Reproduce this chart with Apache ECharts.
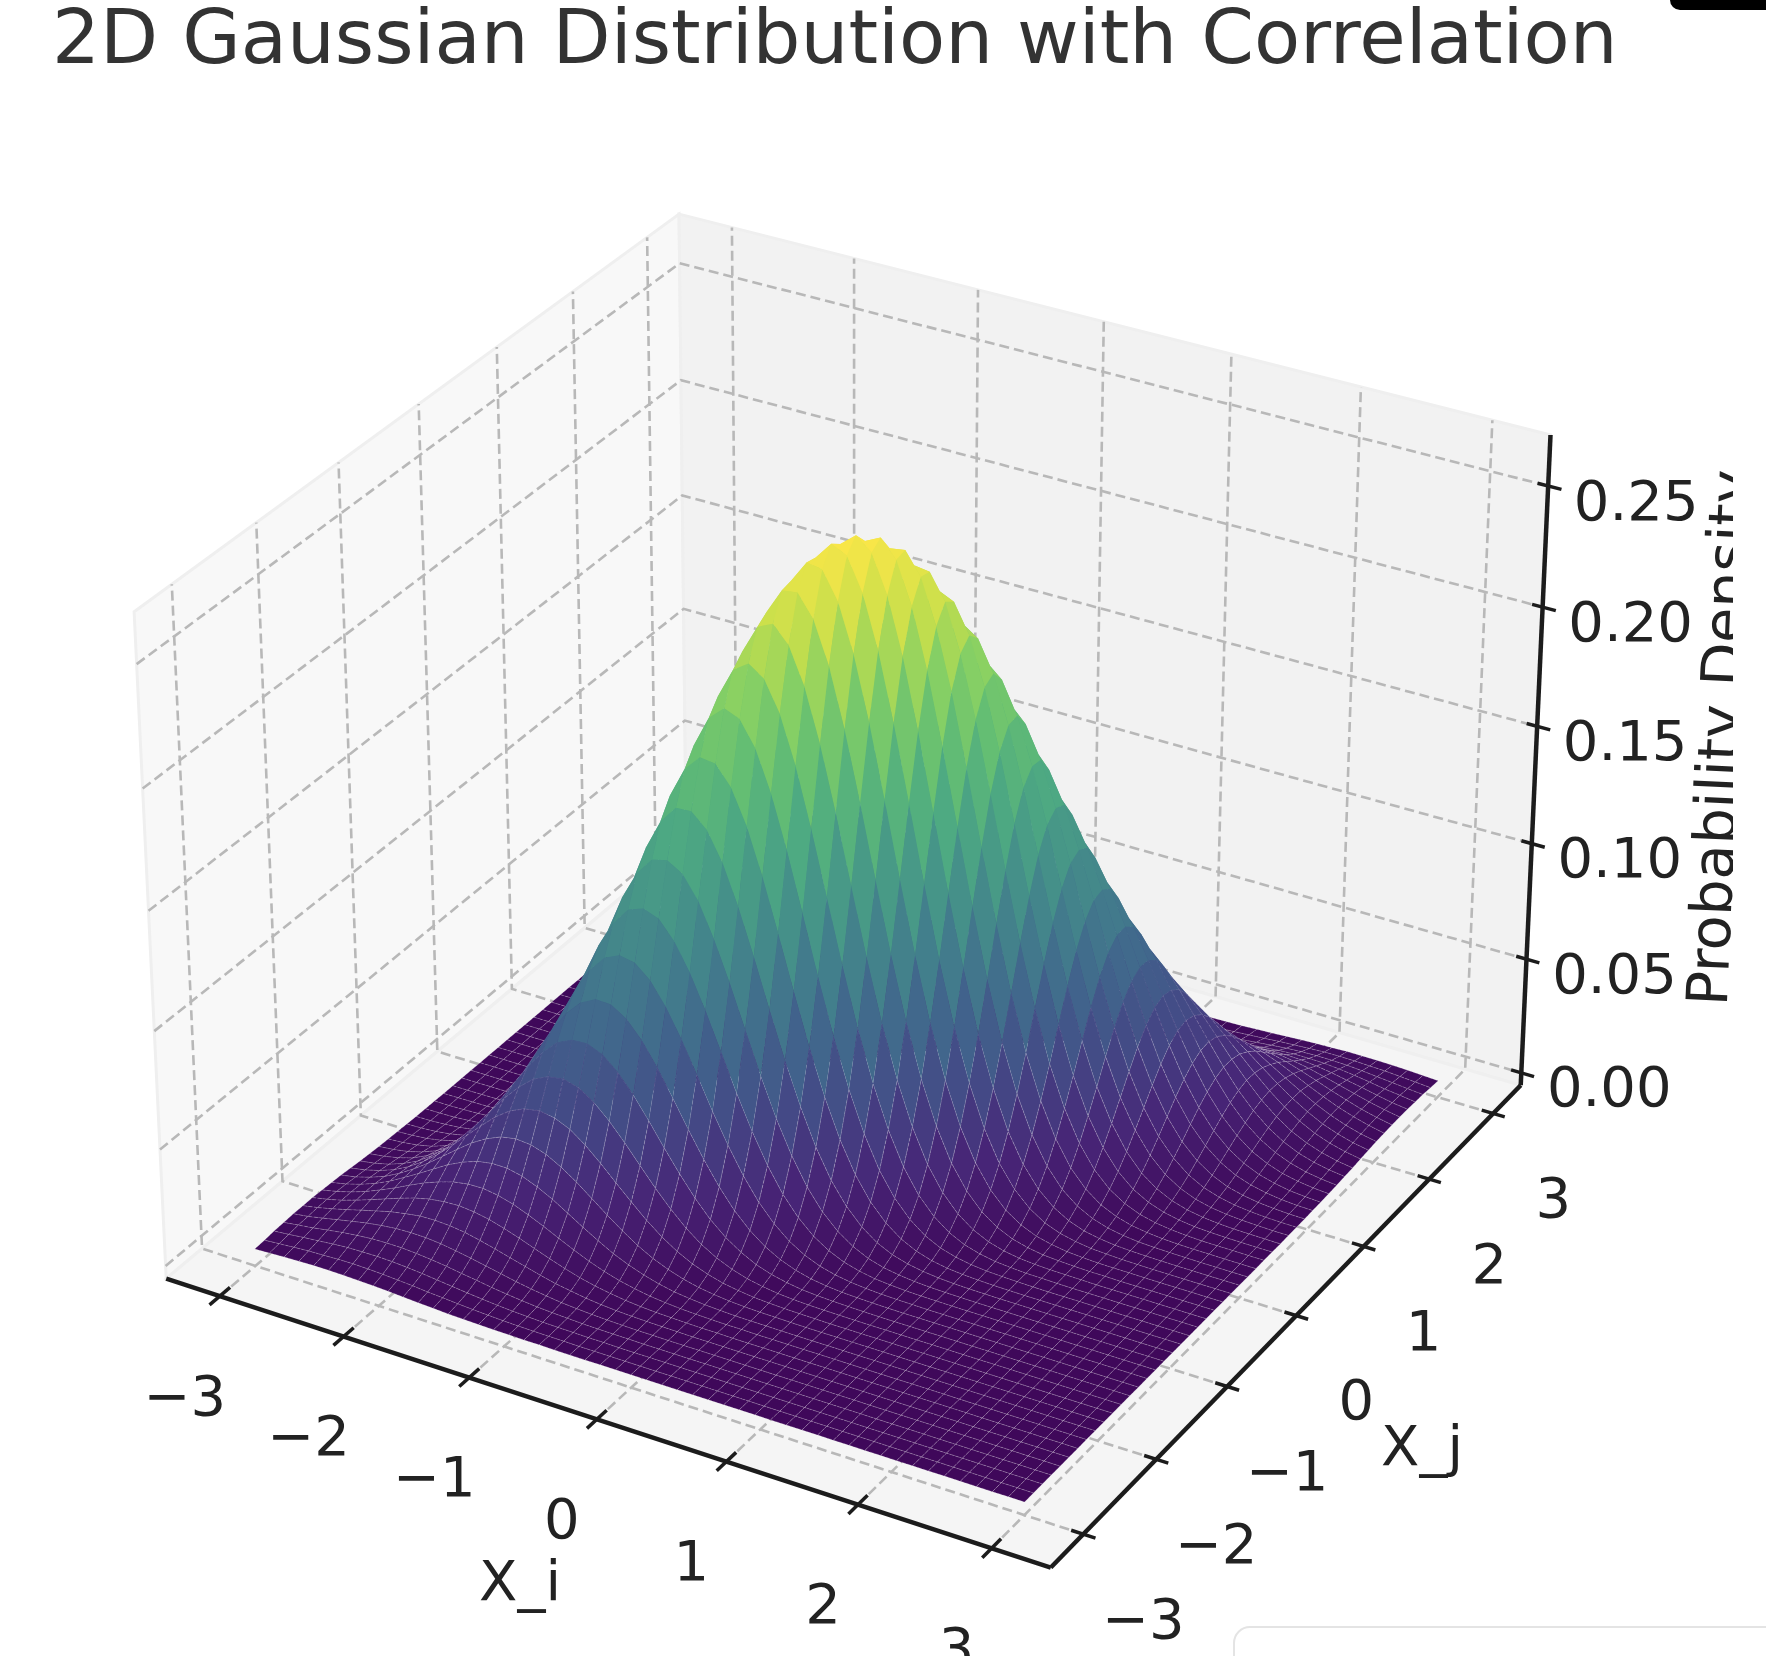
<!DOCTYPE html>
<html>
<head>
<meta charset="utf-8">
<title>2D Gaussian Distribution with Correlation</title>
<style>html,body{margin:0;padding:0;background:#fff}#chart{width:1766px;height:1656px}</style>
<script src="https://cdn.jsdelivr.net/npm/echarts@6/dist/echarts.min.js"></script>
</head>
<body>
<div id="chart"></div>
<script>
// Sample positions along both horizontal axes.
const gridPositions = [-3,-2.88,-2.76,-2.64,-2.52,-2.4,-2.28,-2.16,-2.04,-1.92,-1.8,-1.68,-1.56,-1.44,-1.32,-1.2,-1.08,-0.96,-0.84,-0.72,-0.6,-0.48,-0.36,-0.24,-0.12,0,0.12,0.24,0.36,0.48,0.6,0.72,0.84,0.96,1.08,1.2,1.32,1.44,1.56,1.68,1.8,1.92,2.04,2.16,2.28,2.4,2.52,2.64,2.76,2.88,3];

// Probability density on that grid, in units of 0.0001. Rows follow X_i, columns X_j.
const densityRows = [
[18,21,25,27,29,29,29,27,25,22,18,14,11,8,6,4,3,2,1,1,0,0,0,0,0,0,0,0,0,0,0,0,0,0,0,0,0,0,0,0,0,0,0,0,0,0,0,0,0,0,0],
[21,26,31,36,38,41,42,41,38,34,30,24,20,15,11,8,5,3,2,1,1,0,0,0,0,0,0,0,0,0,0,0,0,0,0,0,0,0,0,0,0,0,0,0,0,0,0,0,0,0,0],
[25,31,38,44,51,56,58,59,57,53,47,40,33,26,20,14,10,7,4,3,2,1,1,0,0,0,0,0,0,0,0,0,0,0,0,0,0,0,0,0,0,0,0,0,0,0,0,0,0,0,0],
[27,36,44,55,65,73,79,81,81,77,71,63,53,44,34,26,19,13,9,6,3,2,1,1,0,0,0,0,0,0,0,0,0,0,0,0,0,0,0,0,0,0,0,0,0,0,0,0,0,0,0],
[29,38,51,65,78,91,101,108,111,110,104,94,83,70,57,44,33,24,16,11,7,4,2,1,1,0,0,0,0,0,0,0,0,0,0,0,0,0,0,0,0,0,0,0,0,0,0,0,0,0,0],
[29,41,56,73,91,108,125,137,147,149,146,138,124,108,90,73,56,41,30,20,13,8,5,3,2,1,0,0,0,0,0,0,0,0,0,0,0,0,0,0,0,0,0,0,0,0,0,0,0,0,0],
[29,42,58,79,101,125,148,169,185,194,197,191,179,160,139,115,92,70,51,36,25,16,10,6,4,2,1,1,0,0,0,0,0,0,0,0,0,0,0,0,0,0,0,0,0,0,0,0,0,0,0],
[27,41,59,81,108,137,169,199,224,244,255,257,247,229,204,175,144,114,86,63,44,30,19,12,7,4,2,1,1,0,0,0,0,0,0,0,0,0,0,0,0,0,0,0,0,0,0,0,0,0,0],
[25,38,57,81,111,147,185,224,263,294,318,329,329,315,289,256,217,177,139,104,76,53,35,22,14,8,5,2,1,1,0,0,0,0,0,0,0,0,0,0,0,0,0,0,0,0,0,0,0,0,0],
[22,34,53,77,110,149,194,244,294,342,380,408,420,415,394,359,315,265,214,167,124,89,62,41,26,16,9,5,3,2,1,0,0,0,0,0,0,0,0,0,0,0,0,0,0,0,0,0,0,0,0],
[18,30,47,71,104,146,197,255,318,380,439,485,514,526,515,486,439,381,318,256,197,146,104,71,47,29,18,10,6,3,2,1,0,0,0,0,0,0,0,0,0,0,0,0,0,0,0,0,0,0,0],
[14,24,40,63,94,138,191,257,329,408,485,553,607,638,647,629,587,527,455,377,300,230,168,119,81,53,33,20,11,6,3,2,1,0,0,0,0,0,0,0,0,0,0,0,0,0,0,0,0,0,0],
[11,20,33,53,83,124,179,247,329,420,514,607,686,748,780,783,756,700,624,534,438,347,263,191,134,91,58,36,22,12,7,4,2,1,0,0,0,0,0,0,0,0,0,0,0,0,0,0,0,0,0],
[8,15,26,44,70,108,160,229,315,415,526,638,748,838,904,937,934,893,822,726,616,502,394,297,214,149,100,64,39,23,13,7,4,2,1,0,0,0,0,0,0,0,0,0,0,0,0,0,0,0,0],
[6,11,20,34,57,90,139,204,289,394,515,647,780,904,1008,1079,1108,1096,1040,949,832,701,566,441,329,236,163,108,69,42,25,14,8,4,2,1,0,0,0,0,0,0,0,0,0,0,0,0,0],
[4,8,14,26,44,73,115,175,256,359,486,629,783,937,1079,1192,1267,1290,1266,1191,1079,938,783,628,485,359,255,175,115,73,44,26,14,8,4,2,1,0,0,0,0,0,0,0,0,0,0,0,0,0,0,0],
[3,5,10,19,33,56,92,144,217,315,439,587,756,934,1108,1267,1388,1462,1478,1439,1345,1206,1041,862,686,525,386,272,185,121,76,45,26,15,8,4,2,1,0,0,0,0,0,0,0,0,0,0,0,0,0],
[2,3,7,13,24,41,70,114,177,265,381,527,700,893,1096,1290,1462,1590,1663,1667,1609,1492,1328,1136,933,737,561,408,285,193,125,77,46,27,15,8,4,2,1,0,0,0,0,0,0,0,0,0,0,0,0],
[1,2,4,9,16,30,51,86,139,214,318,455,624,822,1040,1266,1478,1663,1793,1858,1850,1771,1628,1438,1221,996,780,588,425,295,197,127,78,46,26,14,8,4,2,1,0,0,0,0,0,0,0,0,0,0,0],
[1,1,3,6,11,20,36,63,104,167,256,377,534,726,949,1191,1439,1667,1858,1989,2046,2020,1918,1750,1535,1292,1044,811,607,436,299,199,127,77,45,26,14,7,4,2,1,0,0,0,0,0,0,0,0,0,0],
[0,1,2,3,7,13,25,44,76,124,197,300,438,616,832,1079,1345,1609,1850,2046,2172,2215,2171,2046,1851,1609,1344,1078,831,617,439,299,197,125,76,44,25,13,7,3,2,1,0,0,0,0,0,0,0,0,0],
[0,0,1,2,4,8,16,30,53,89,146,230,347,502,701,938,1206,1492,1771,2020,2215,2334,2364,2295,2145,1926,1662,1377,1096,838,617,436,295,193,121,73,42,23,12,6,3,2,1,0,0,0,0,0,0,0,0],
[0,0,1,1,2,5,10,19,35,62,104,168,263,394,566,783,1041,1328,1628,1918,2171,2364,2469,2478,2389,2215,1973,1689,1388,1096,831,607,425,285,185,115,69,39,22,11,6,3,1,1,0,0,0,0,0,0,0],
[0,0,0,1,1,3,6,12,22,41,71,119,191,297,441,628,862,1136,1438,1750,2046,2295,2478,2569,2559,2447,2251,1989,1689,1377,1078,811,588,408,272,175,108,64,36,20,10,5,2,1,1,0,0,0,0,0,0],
[0,0,0,0,1,2,4,7,14,26,47,81,134,214,329,485,686,933,1221,1535,1851,2145,2389,2559,2632,2601,2467,2251,1973,1662,1344,1044,780,561,386,255,163,100,58,33,18,9,5,2,1,0,0,0,0,0,0],
[0,0,0,0,0,1,2,4,8,16,29,53,91,149,236,359,525,737,996,1292,1609,1926,2215,2447,2601,2653,2601,2447,2215,1926,1609,1292,996,737,525,359,236,149,91,53,29,16,8,4,2,1,0,0,0,0,0],
[0,0,0,0,0,0,1,2,5,9,18,33,58,100,163,255,386,561,780,1044,1344,1662,1973,2251,2467,2601,2632,2559,2389,2145,1851,1535,1221,933,686,485,329,214,134,81,47,26,14,7,4,2,1,0,0,0,0],
[0,0,0,0,0,0,1,1,2,5,10,20,36,64,108,175,272,408,588,811,1078,1377,1689,1989,2251,2447,2559,2569,2478,2295,2046,1750,1438,1136,862,628,441,297,191,119,71,41,22,12,6,3,1,1,0,0,0],
[0,0,0,0,0,0,0,1,1,3,6,11,22,39,69,115,185,285,425,607,831,1096,1388,1689,1973,2215,2389,2478,2469,2364,2171,1918,1628,1328,1041,783,566,394,263,168,104,62,35,19,10,5,2,1,1,0,0],
[0,0,0,0,0,0,0,0,1,2,3,6,12,23,42,73,121,193,295,436,617,838,1096,1377,1662,1926,2145,2295,2364,2334,2215,2020,1771,1492,1206,938,701,502,347,230,146,89,53,30,16,8,4,2,1,0,0],
[0,0,0,0,0,0,0,0,0,1,2,3,7,13,25,44,76,125,197,299,439,617,831,1078,1344,1609,1851,2046,2171,2215,2172,2046,1850,1609,1345,1079,832,616,438,300,197,124,76,44,25,13,7,3,2,1,0],
[0,0,0,0,0,0,0,0,0,0,1,2,4,7,14,26,45,77,127,199,299,436,607,811,1044,1292,1535,1750,1918,2020,2046,1989,1858,1667,1439,1191,949,726,534,377,256,167,104,63,36,20,11,6,3,1,1],
[0,0,0,0,0,0,0,0,0,0,0,1,2,4,8,14,26,46,78,127,197,295,425,588,780,996,1221,1438,1628,1771,1850,1858,1793,1663,1478,1266,1040,822,624,455,318,214,139,86,51,30,16,9,4,2,1],
[0,0,0,0,0,0,0,0,0,0,0,0,1,2,4,8,15,27,46,77,125,193,285,408,561,737,933,1136,1328,1492,1609,1667,1663,1590,1462,1290,1096,893,700,527,381,265,177,114,70,41,24,13,7,3,2],
[0,0,0,0,0,0,0,0,0,0,0,0,0,1,2,4,8,15,26,45,76,121,185,272,386,525,686,862,1041,1206,1345,1439,1478,1462,1388,1267,1108,934,756,587,439,315,217,144,92,56,33,19,10,5,3],
[0,0,0,0,0,0,0,0,0,0,0,0,0,0,1,2,4,8,14,26,44,73,115,175,255,359,485,628,783,938,1079,1191,1266,1290,1267,1192,1079,937,783,629,486,359,256,175,115,73,44,26,14,8,4],
[0,0,0,0,0,0,0,0,0,0,0,0,0,0,0,1,2,4,8,14,25,42,69,108,163,236,329,441,566,701,832,949,1040,1096,1108,1079,1008,904,780,647,515,394,289,204,139,90,57,34,20,11,6],
[0,0,0,0,0,0,0,0,0,0,0,0,0,0,0,0,1,2,4,7,13,23,39,64,100,149,214,297,394,502,616,726,822,893,934,937,904,838,748,638,526,415,315,229,160,108,70,44,26,15,8],
[0,0,0,0,0,0,0,0,0,0,0,0,0,0,0,0,0,1,2,4,7,12,22,36,58,91,134,191,263,347,438,534,624,700,756,783,780,748,686,607,514,420,329,247,179,124,83,53,33,20,11],
[0,0,0,0,0,0,0,0,0,0,0,0,0,0,0,0,0,0,1,2,3,6,11,20,33,53,81,119,168,230,300,377,455,527,587,629,647,638,607,553,485,408,329,257,191,138,94,63,40,24,14],
[0,0,0,0,0,0,0,0,0,0,0,0,0,0,0,0,0,0,0,1,2,3,6,10,18,29,47,71,104,146,197,256,318,381,439,486,515,526,514,485,439,380,318,255,197,146,104,71,47,30,18],
[0,0,0,0,0,0,0,0,0,0,0,0,0,0,0,0,0,0,0,0,1,2,3,5,9,16,26,41,62,89,124,167,214,265,315,359,394,415,420,408,380,342,294,244,194,149,110,77,53,34,22],
[0,0,0,0,0,0,0,0,0,0,0,0,0,0,0,0,0,0,0,0,0,1,1,2,5,8,14,22,35,53,76,104,139,177,217,256,289,315,329,329,318,294,263,224,185,147,111,81,57,38,25],
[0,0,0,0,0,0,0,0,0,0,0,0,0,0,0,0,0,0,0,0,0,0,1,1,2,4,7,12,19,30,44,63,86,114,144,175,204,229,247,257,255,244,224,199,169,137,108,81,59,41,27],
[0,0,0,0,0,0,0,0,0,0,0,0,0,0,0,0,0,0,0,0,0,0,0,1,1,2,4,6,10,16,25,36,51,70,92,115,139,160,179,191,197,194,185,169,148,125,101,79,58,42,29],
[0,0,0,0,0,0,0,0,0,0,0,0,0,0,0,0,0,0,0,0,0,0,0,0,0,1,2,3,5,8,13,20,30,41,56,73,90,108,124,138,146,149,147,137,125,108,91,73,56,41,29],
[0,0,0,0,0,0,0,0,0,0,0,0,0,0,0,0,0,0,0,0,0,0,0,0,0,0,1,1,2,4,7,11,16,24,33,44,57,70,83,94,104,110,111,108,101,91,78,65,51,38,29],
[0,0,0,0,0,0,0,0,0,0,0,0,0,0,0,0,0,0,0,0,0,0,0,0,0,0,0,1,1,2,3,6,9,13,19,26,34,44,53,63,71,77,81,81,79,73,65,55,44,36,27],
[0,0,0,0,0,0,0,0,0,0,0,0,0,0,0,0,0,0,0,0,0,0,0,0,0,0,0,0,1,1,2,3,4,7,10,14,20,26,33,40,47,53,57,59,58,56,51,44,38,31,25],
[0,0,0,0,0,0,0,0,0,0,0,0,0,0,0,0,0,0,0,0,0,0,0,0,0,0,0,0,0,0,1,1,2,3,5,8,11,15,20,24,30,34,38,41,42,41,38,36,31,26,21],
[0,0,0,0,0,0,0,0,0,0,0,0,0,0,0,0,0,0,0,0,0,0,0,0,0,0,0,0,0,0,0,1,1,2,3,4,6,8,11,14,18,22,25,27,29,29,29,27,25,21,18]
];

const xTicks = [-3,-2,-1,0,1,2,3];
const yTicks = [-3,-2,-1,0,1,2,3];
const zTicks = [0,0.05,0.1,0.15,0.2,0.25];
const xLimits = [-3.4375,3.4375];
const yLimits = [-3.4375,3.4375];
const zLimits = [-0.0055,0.2708];
const surfaceStops = ['#3f085a','#472476','#444685','#41648c','#427d8c','#469488','#4eaa82','#64be73','#87d064','#c8df4b','#f8e648'];

// Perspective camera for a 4:4:3 box seen from elevation 30, azimuth -60.
const boxScale = 0.29762;
const boxSize = [4*boxScale,4*boxScale,3*boxScale];
const cameraDistance = 10;
const camU = [0.8660254,0.5,0];
const camV = [-0.25,0.4330127,0.8660254];
const camW = [0.4330127,-0.75,0.5];
function dot(a,b){return a[0]*b[0]+a[1]*b[1]+a[2]*b[2];}
function toBox(x,y,z){
  return [
    ((x-xLimits[0])/(xLimits[1]-xLimits[0])-0.5)*boxSize[0],
    ((y-yLimits[0])/(yLimits[1]-yLimits[0])-0.5)*boxSize[1],
    ((z-zLimits[0])/(zLimits[1]-zLimits[0])-0.5)*boxSize[2]
  ];
}
function project(x,y,z){
  const r = toBox(x,y,z);
  const d = cameraDistance-dot(camW,r);
  return [dot(camU,r)/d,dot(camV,r)/d];
}
function nearness(x,y,z){return dot(camW,toBox(x,y,z));}

function hexRgb(h){return [1,3,5].map(k=>parseInt(h.substr(k,2),16));}
function surfaceColor(t){
  const f = Math.max(0,Math.min(1,t))*(surfaceStops.length-1);
  const k = Math.min(Math.floor(f),surfaceStops.length-2);
  const a = hexRgb(surfaceStops[k]), b = hexRgb(surfaceStops[k+1]);
  const m = f-k;
  return 'rgb('+a.map((v,n)=>Math.round(v+(b[n]-v)*m)).join(',')+')';
}
// Faint mesh lines on the low part of the surface, fading out up the slope.
function meshAlpha(z){
  return 0.2*Math.max(0,Math.min(1,(0.075-z)/0.035));
}

// Surface cells, ordered far to near so nearer cells paint over farther ones.
const cells = [];
for(let i=0;i<gridPositions.length-1;i++){
  for(let j=0;j<gridPositions.length-1;j++){
    const corners = [[i,j],[i+1,j],[i+1,j+1],[i,j+1]].map(c=>[gridPositions[c[0]],gridPositions[c[1]],(densityRows[c[0]][c[1]]||0)/10000]);
    const meanZ = corners.reduce((s,c)=>s+c[2],0)/4;
    const depth = corners.reduce((s,c)=>s+nearness(c[0],c[1],c[2]),0)/4;
    cells.push({corners,meanZ,depth});
  }
}
cells.sort((a,b)=>a.depth-b.depth);
const meanZs = cells.map(c=>c.meanZ);
const colorMin = Math.min.apply(null,meanZs), colorMax = Math.max.apply(null,meanZs);

const [xLo,xHi] = xLimits, [yLo,yHi] = yLimits, [zLo,zHi] = zLimits;
const panes = [
  {fill:'#f8f8f8',corners:[[xLo,yLo,zLo],[xLo,yHi,zLo],[xLo,yHi,zHi],[xLo,yLo,zHi]]},
  {fill:'#f2f2f2',corners:[[xLo,yHi,zLo],[xHi,yHi,zLo],[xHi,yHi,zHi],[xLo,yHi,zHi]]},
  {fill:'#f5f5f5',corners:[[xLo,yLo,zLo],[xHi,yLo,zLo],[xHi,yHi,zLo],[xLo,yHi,zLo]]}
];
const gridPaths = [];
xTicks.forEach(x=>gridPaths.push([[x,yLo,zLo],[x,yHi,zLo],[x,yHi,zHi]]));
yTicks.forEach(y=>gridPaths.push([[xHi,y,zLo],[xLo,y,zLo],[xLo,y,zHi]]));
zTicks.forEach(z=>gridPaths.push([[xLo,yLo,z],[xLo,yHi,z],[xHi,yHi,z]]));
const axisPaths = [
  [[xLo,yLo,zLo],[xHi,yLo,zLo]],
  [[xHi,yLo,zLo],[xHi,yHi,zLo]],
  [[xHi,yHi,zLo],[xHi,yHi,zHi]]
];
const tickPaths = [];
xTicks.forEach(x=>tickPaths.push([[x,yLo-0.125,zLo],[x,yLo+0.125,zLo]]));
yTicks.forEach(y=>tickPaths.push([[xHi-0.09,y,zLo],[xHi+0.09,y,zLo]]));
zTicks.forEach(z=>tickPaths.push([[xHi-0.08,yHi,z],[xHi+0.1,yHi,z]]));

const labelFont = '"DejaVu Sans"';
const tickLabels = [];
xTicks.forEach(x=>tickLabels.push({at:[x,yLo,zLo],dx:-35,dy:104,text:String(x).replace('-','\u2212')}));
yTicks.forEach(y=>tickLabels.push({at:[xHi,y,zLo],dx:60,dy:89,text:String(y).replace('-','\u2212')}));
zTicks.forEach(z=>tickLabels.push({at:[xHi,yHi,z],dx:88,dy:19,text:z.toFixed(2)}));

function layer(name,items,z,build){
  return {
    type:'custom',name,coordinateSystem:'cartesian2d',silent:true,clip:false,z,
    animation:false,progressive:0,
    data:items.map((_,n)=>[n,0]),
    renderItem:(params,api)=>build(items[params.dataIndex],p=>api.coord(project(p[0],p[1],p[2])))
  };
}

const chart = echarts.init(document.getElementById('chart'),null,{renderer:'canvas'});
chart.setOption({
  animation:false,
  backgroundColor:'#ffffff',
  title:{text:'2D Gaussian Distribution with Correlation',left:47,top:0,textStyle:{fontFamily:labelFont,fontSize:75.5,fontWeight:'normal',color:'#333333'}},
  grid:{left:0,right:0,top:0,bottom:0},
  xAxis:{type:'value',min:-0.10056,max:0.10691,show:false},
  yAxis:{type:'value',min:-0.09372,max:0.10083,show:false},
  tooltip:{show:false},
  series:[
    layer('panes',panes,1,(p,at)=>({type:'polygon',shape:{points:p.corners.map(at)},style:{fill:p.fill,stroke:'#efefef',lineWidth:3}})),
    layer('grid',gridPaths,2,(p,at)=>({type:'polyline',shape:{points:p.map(at)},style:{fill:null,stroke:'#b8b8b8',lineWidth:2.6,lineDash:[10,5]}})),
    layer('axes',axisPaths,3,(p,at)=>({type:'polyline',shape:{points:p.map(at)},style:{fill:null,stroke:'#1c1c1c',lineWidth:4.5}})),
    layer('ticks',tickPaths,3,(p,at)=>({type:'polyline',shape:{points:p.map(at)},style:{fill:null,stroke:'#1c1c1c',lineWidth:3.5}})),
    layer('density surface',cells,4,(c,at)=>({
      type:'polygon',shape:{points:c.corners.map(at)},
      style:{fill:surfaceColor((c.meanZ-colorMin)/(colorMax-colorMin)),stroke:'rgba(255,255,255,'+meshAlpha(c.meanZ)+')',lineWidth:1,lineDash:[4,1.5]}
    })),
    layer('tick labels',tickLabels,5,(l,at)=>{
      const p = at(l.at);
      return {type:'text',x:p[0]+l.dx,y:p[1]+l.dy,style:{text:l.text,align:'center',verticalAlign:'middle',fontFamily:labelFont,fontSize:56,fill:'#222222'}};
    })
  ],
  graphic:[
    {type:'text',z:6,x:520,y:1585,style:{text:'X_i',align:'center',verticalAlign:'middle',fontFamily:labelFont,fontSize:56,fill:'#222222'}},
    {type:'text',z:6,x:1422,y:1450,style:{text:'X_j',align:'center',verticalAlign:'middle',fontFamily:labelFont,fontSize:56,fill:'#222222'}},
    {type:'text',z:6,x:1724,y:738,rotation:87.4*Math.PI/180,style:{text:'Probability Density',align:'center',verticalAlign:'middle',fontFamily:labelFont,fontSize:57,fill:'#222222'}},
    {type:'rect',z:7,shape:{x:1733,y:0,width:33,height:1400},style:{fill:'#ffffff'}},
    {type:'rect',z:8,shape:{x:1670,y:-20,width:130,height:30,r:10},style:{fill:'#000000'}},
    {type:'rect',z:8,shape:{x:1234,y:1627,width:600,height:80,r:16},style:{fill:'#ffffff',stroke:'#e4e4e4',lineWidth:2}}
  ]
});
</script>
</body>
</html>
